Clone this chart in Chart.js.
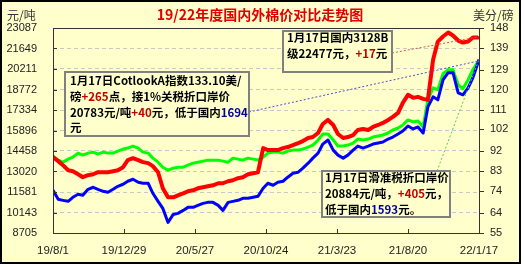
<!DOCTYPE html>
<html>
<head>
<meta charset="utf-8">
<script src="https://cdn.jsdelivr.net/npm/chart.js@4/dist/chart.umd.min.js"></script>
<style>
  html, body { margin: 0; padding: 0; background: #ffffff; }
  #cotton { display: block; }
</style>
</head>
<body>
<canvas id="cotton" width="525" height="267"></canvas>
<script>
/* Ngày tính từ 19/8/1 */
var days = [0, 11, 21, 32, 42, 53, 63, 74, 85, 95, 106, 116, 127, 137, 148, 158, 169, 180, 190, 201,
  211, 222, 232, 243, 254, 264, 275, 285, 296, 306, 317, 327, 338, 349, 359, 370, 380, 391, 401, 412,
  423, 433, 444, 454, 465, 475, 486, 496, 507, 518, 528, 539, 549, 560, 570, 581, 592, 602, 613, 623,
  634, 644, 655, 666, 676, 687, 697, 708, 718, 729, 739, 750, 761, 771, 782, 792, 803, 813, 824, 835,
  845, 856, 866, 877, 887, 898, 900];

// 国内3128B (元/吨)
var domestic3128B = [14028, 13746, 13464, 13111, 13041, 12829, 12618, 12759, 12829, 12970,
  12970, 12970, 13041, 13111, 13323, 13816, 13957, 13816, 13675, 13605,
  13393, 12970, 11842, 11208, 11208, 11349, 11490, 11631, 11701, 11842,
  11913, 11983, 12054, 12195, 12195, 12336, 12406, 12547, 12618, 12829,
  12900, 12970, 14662, 14521, 14521, 14521, 14662, 14733, 14874, 15015,
  15156, 15367, 15438, 15720, 16354, 16636, 16284, 15649, 15367, 15438,
  15579, 15931, 16002, 15931, 16143, 16284, 16425, 16636, 16848, 17130,
  17835, 18399, 18187, 18258, 18117, 18046, 20866, 22135, 22488, 22770,
  22558, 22206, 22065, 22135, 22417, 22417, 22477];

// Cotlook A 按1%关税折口岸价 (元/吨)
var cotlook1Pct = [14098, 13816, 13675, 13887, 14028, 14310, 14169, 14310, 14380, 14239,
  14380, 14310, 14310, 14451, 14592, 14662, 14803, 14662, 14380, 14310,
  13957, 13675, 13323, 13111, 13252, 13323, 13323, 13464, 13605, 13675,
  13746, 13816, 13816, 13816, 13746, 13675, 13957, 13887, 13816, 13957,
  13887, 13816, 14028, 14310, 14380, 14380, 14310, 14451, 14521, 14521,
  14592, 14733, 14874, 15226, 15649, 15649, 15226, 14803, 14803, 14874,
  15015, 15297, 15226, 15297, 15438, 15508, 15579, 15720, 15931, 16072,
  16284, 16636, 16495, 16566, 16143, 18046, 18892, 18751, 19879, 20161,
  20161, 19104, 18822, 19456, 20161, 20725, 20783];

// 滑准税折口岸价 (元/吨)
var slidingTariff = [11701, 11067, 10996, 10926, 11208, 11419, 11349, 11772, 11913, 11772,
  11631, 11560, 11772, 11983, 12124, 12336, 12477, 12265, 12195, 12195,
  11490, 10926, 10432, 9445, 10009, 10080, 10291, 10503, 10503, 10644,
  10785, 10855, 10855, 10644, 10291, 10855, 10926, 10996, 11137, 11137,
  11208, 11278, 11842, 12195, 12054, 12265, 12336, 12618, 12900, 12970,
  13252, 13605, 13957, 14310, 14944, 15226, 14521, 14169, 13957, 14169,
  14521, 14803, 14662, 14803, 14944, 15015, 15085, 15297, 15438, 15649,
  15861, 16213, 16002, 16143, 15720, 17552, 18258, 18046, 19456, 19950,
  19950, 18539, 18399, 18892, 19597, 20650, 20884];

var xTickDays = [0, 150, 300, 450, 600, 750, 900];
var xTickLabels = ["19/8/1", "19/12/29", "20/5/27", "20/10/24", "21/3/23", "21/8/20", "22/1/17"];
var leftTicks = [8705, 10143, 11581, 13020, 14458, 15896, 17334, 18772, 20211, 21649, 23087];
var rightTicks = [55, 64, 74, 83, 92, 102, 111, 120, 129, 139, 148];

var BG = "#ffffcc";
var K = "#000000", RED = "#c00000", NAVY = "#000099";

// các hộp chú thích
var notes = [
  { x: 65, y: 72, w: 184, h: 64, tx: 70, ly: [81, 97, 113, 128], lines: [
    [["1月17日CotlookA指数133.10美/", K]],
    [["磅", K], ["+265", RED], ["点，接1%关税折口岸价", K]],
    [["20783元/吨", K], ["+40", RED], ["元，低于国内", K], ["1694", NAVY]],
    [["元", K]]
  ]},
  { x: 283, y: 31, w: 109, h: 41, tx: 287, ly: [38, 54], lines: [
    [["1月17日国内3128B", K]],
    [["级22477元，", K], ["+17", RED], ["元", K]]
  ]},
  { x: 322, y: 171, w: 128, h: 46, tx: 325, ly: [178, 194, 210], lines: [
    [["1月17日滑准税折口岸价", K]],
    [["20884元/吨，", K], ["+405", RED], ["元，", K]],
    [["低于国内", K], ["1593", NAVY], ["元。", K]]
  ]}
];

function toPoints(arr) {
  return arr.map(function (v, i) { return { x: days[i], y: v }; });
}

var paper = {
  id: "paper",
  beforeDraw: function (chart) {
    var c = chart.ctx;
    c.save();
    c.fillStyle = "#ffffff";
    c.fillRect(0, 0, chart.width, chart.height);
    c.fillStyle = BG;
    c.fillRect(0, 0, 521, 264);
    c.strokeStyle = "#000000";
    c.lineWidth = 2;
    c.strokeRect(1, 1, 519, 262);
    c.restore();
  },
  afterDatasetsDraw: function (chart) {
    var c = chart.ctx, a = chart.chartArea;
    var sx = chart.scales.x, sy = chart.scales.y, sy2 = chart.scales.y2;
    c.save();
    // khung vùng vẽ
    c.strokeStyle = "#333333";
    c.lineWidth = 1;
    c.strokeRect(a.left + 0.5, a.top + 0.5, a.right - a.left, a.bottom - a.top);
    // vạch chia nhỏ
    c.beginPath();
    xTickDays.forEach(function (d) {
      var px = Math.round(sx.getPixelForValue(d)) + 0.5;
      c.moveTo(px, a.bottom); c.lineTo(px, a.bottom - 4);
    });
    leftTicks.forEach(function (v) {
      var py = Math.round(sy.getPixelForValue(v)) + 0.5;
      c.moveTo(a.left, py); c.lineTo(a.left + 4, py);
    });
    rightTicks.forEach(function (v) {
      var py = Math.round(sy2.getPixelForValue(v)) + 0.5;
      c.moveTo(a.right, py); c.lineTo(a.right + 5, py);
    });
    c.stroke();

    // đường chấm nối hộp với điểm cuối
    var n = days.length - 1;
    var xe = sx.getPixelForValue(days[n]);
    c.lineWidth = 1;
    c.setLineDash([2, 2]);
    c.strokeStyle = "#e05050";
    c.beginPath(); c.moveTo(392, 53); c.lineTo(xe, sy.getPixelForValue(domestic3128B[n])); c.stroke();
    c.strokeStyle = "#5050c0";
    c.beginPath(); c.moveTo(249, 112); c.lineTo(xe, sy.getPixelForValue(cotlook1Pct[n])); c.stroke();
    c.strokeStyle = "#50d050";
    c.beginPath(); c.moveTo(437, 171); c.lineTo(xe, sy.getPixelForValue(slidingTariff[n])); c.stroke();
    c.restore();
  },
  afterDraw: function (chart) {
    var c = chart.ctx;
    c.save();
    c.textBaseline = "middle";
    // tiêu đề
    c.font = "bold 14px 'Noto Sans CJK SC'";
    c.fillStyle = "#e00000";
    c.textAlign = "center";
    c.fillText("19/22年度国内外棉价对比走势图", 260, 15);
    // đơn vị
    c.font = "12px 'Noto Sans CJK SC'";
    c.fillStyle = "#333333";
    c.textAlign = "left";
    c.fillText("元/吨", 7, 15);
    c.fillText("美分/磅", 473, 15);
    // hộp chú thích
    notes.forEach(function (nb) {
      c.fillStyle = BG;
      c.fillRect(nb.x, nb.y, nb.w, nb.h);
      c.strokeStyle = "#808080";
      c.lineWidth = 2;
      c.strokeRect(nb.x, nb.y, nb.w, nb.h);
      c.font = "bold 11.5px 'Noto Sans CJK SC'";
      nb.lines.forEach(function (segs, i) {
        var px = nb.tx;
        segs.forEach(function (s) {
          c.fillStyle = s[1];
          c.fillText(s[0], px, nb.ly[i]);
          px += c.measureText(s[0]).width;
        });
      });
    });
    c.restore();
  }
};

var ctx = document.getElementById("cotton").getContext("2d");
var cottonChart = new Chart(ctx, {
  type: "line",
  data: {
    datasets: [
      {
        label: "国内3128B",
        data: toPoints(domestic3128B),
        borderColor: "#ff0000",
        borderWidth: 4,
        order: 1
      },
      {
        label: "滑准税折口岸价",
        data: toPoints(slidingTariff),
        borderColor: "#0000ff",
        borderWidth: 3,
        order: 2
      },
      {
        label: "1%关税折口岸价",
        data: toPoints(cotlook1Pct),
        borderColor: "#00ff00",
        borderWidth: 3,
        order: 3
      }
    ]
  },
  options: {
    responsive: false,
    animation: false,
    devicePixelRatio: 1,
    layout: { padding: { top: 28, left: 0, right: 0, bottom: 0 } },
    elements: {
      point: { radius: 0 },
      line: { tension: 0, borderJoinStyle: "round", fill: false }
    },
    plugins: { legend: { display: false }, tooltip: { enabled: false } },
    scales: {
      x: {
        type: "linear",
        min: 0,
        max: 900,
        afterBuildTicks: function (s) {
          s.ticks = xTickDays.map(function (d) { return { value: d }; });
        },
        afterFit: function (s) { s.height = 34; },
        grid: { display: false, drawTicks: false },
        border: { display: false },
        ticks: {
          autoSkip: false,
          maxRotation: 0,
          padding: 11,
          color: "#222222",
          font: { family: "Liberation Sans", size: 11.5 },
          callback: function (v) { return xTickLabels[xTickDays.indexOf(v)]; }
        }
      },
      y: {
        position: "left",
        min: 8705,
        max: 23087,
        afterBuildTicks: function (s) {
          s.ticks = leftTicks.map(function (v) { return { value: v }; });
        },
        afterFit: function (s) { s.width = 53; },
        grid: { color: "#c8c8c8", drawTicks: false },
        border: { display: false, dash: [4, 3] },
        ticks: {
          padding: 16,
          color: "#222222",
          font: { family: "Liberation Sans", size: 11 },
          callback: function (v) { return String(v); }
        }
      },
      y2: {
        position: "right",
        min: 55,
        max: 148,
        afterBuildTicks: function (s) {
          s.ticks = rightTicks.map(function (v) { return { value: v }; });
        },
        afterFit: function (s) { s.width = 46; },
        grid: { display: false, drawTicks: false },
        border: { display: false },
        ticks: {
          padding: 11,
          color: "#222222",
          font: { family: "Liberation Sans", size: 11 },
          callback: function (v) { return String(v); }
        }
      }
    }
  },
  plugins: [paper]
});
</script>
</body>
</html>
